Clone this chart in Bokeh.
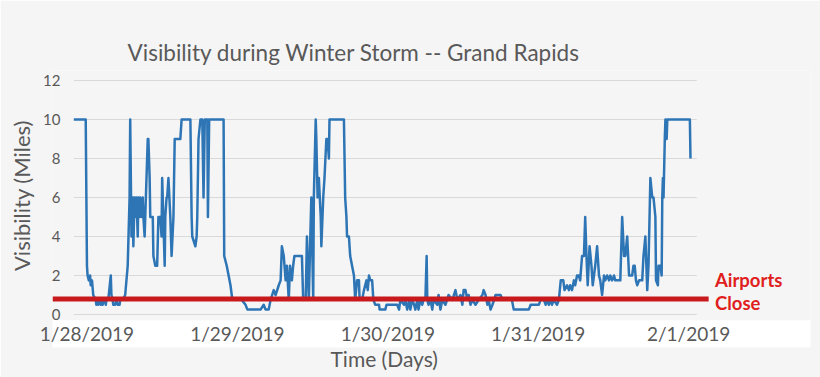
from bokeh.plotting import figure
from bokeh.models import Range1d, FixedTicker, Title, ColumnDataSource
from bokeh.core.properties import value
from bokeh.embed import file_html
from bokeh.resources import INLINE

TITLE = "Visibility during Winter Storm -- Grand Rapids"
Y_LABEL = "Visibility (Miles)"
X_LABEL = "Time (Days)"
THRESHOLD_TEXT = ["Airports", "Close"]

# hours since 1/28/2019 00:00
TIME_HOURS = [
    -2.1, -0.2, 0.0, 0.1, 0.3, 0.5, 0.6, 0.8, 1.0, 1.4,
    1.5, 1.7, 1.8, 2.0, 2.2, 2.3, 2.5, 2.6, 2.8, 3.0,
    3.1, 3.4, 3.8, 3.9, 4.1, 4.2, 4.5, 4.7, 4.9, 5.2,
    5.3, 5.7, 6.1, 6.5, 6.8, 6.9, 7.1, 7.3, 7.4, 7.6,
    7.7, 7.9, 8.1, 8.2, 8.4, 8.5, 8.7, 8.9, 9.0, 9.2,
    9.3, 9.7, 9.8, 10.0, 10.1, 10.5, 10.6, 10.9, 11.2, 11.4,
    11.7, 11.9, 12.0, 12.4, 12.5, 12.7, 12.8, 13.0, 13.3, 13.5,
    13.8, 14.0, 14.9, 15.1, 16.5, 16.7, 16.8, 17.3, 17.5, 17.6,
    17.8, 18.1, 18.4, 18.6, 18.8, 19.2, 19.3, 19.5, 21.8, 21.9,
    22.3, 22.6, 22.9, 23.1, 23.2, 23.7, 24.7, 25.3, 25.6, 27.7,
    28.2, 28.5, 29.0, 29.3, 29.8, 30.1, 30.6, 30.9, 31.1, 31.4,
    31.7, 31.9, 32.2, 32.4, 32.7, 32.9, 33.1, 34.3, 34.5, 34.9,
    35.1, 35.4, 35.6, 35.8, 36.1, 36.2, 36.5, 36.6, 36.8, 37.0,
    37.3, 37.4, 37.7, 37.9, 38.2, 38.4, 38.6, 38.7, 41.0, 41.2,
    41.4, 41.5, 41.8, 42.0, 42.3, 42.6, 42.8, 43.1, 43.4, 43.5,
    43.9, 44.2, 44.6, 44.8, 45.0, 45.2, 45.5, 45.7, 46.0, 46.6,
    46.7, 47.6, 47.8, 49.5, 49.8, 50.0, 50.6, 50.8, 51.1, 51.4,
    51.6, 51.9, 52.2, 52.4, 52.7, 52.9, 53.2, 53.5, 53.7, 54.0,
    54.2, 54.3, 54.5, 54.8, 55.1, 55.3, 55.9, 56.1, 56.4, 56.7,
    57.2, 57.7, 58.3, 58.8, 59.1, 59.6, 59.9, 60.1, 60.4, 60.7,
    60.9, 61.2, 61.5, 62.0, 62.5, 63.1, 63.3, 63.6, 63.9, 64.1,
    64.4, 64.7, 65.2, 66.0, 66.3, 67.8, 68.1, 70.5, 70.8, 72.1,
    72.4, 72.9, 73.2, 73.4, 73.7, 74.0, 74.2, 74.5, 75.0, 75.3,
    75.6, 76.0, 76.2, 76.6, 76.9, 77.1, 77.4, 77.7, 77.9, 78.2,
    78.5, 78.7, 79.0, 79.3, 79.5, 79.7, 79.9, 80.2, 80.5, 80.7,
    80.9, 81.1, 81.4, 81.7, 81.9, 82.2, 82.5, 82.7, 83.0, 83.3,
    83.5, 83.8, 84.1, 84.3, 85.1, 85.4, 85.7, 85.9, 86.2, 86.5,
    87.0, 87.2, 87.4, 87.6, 87.8, 88.1, 88.6, 88.8, 89.1, 89.4,
    89.6, 89.9, 90.2, 90.4, 90.7, 90.8, 91.1, 91.2, 91.5, 91.7,
    91.8, 91.9, 92.0, 92.2, 92.3, 92.5, 92.6, 96.2, 96.3,
]

VISIBILITY_MI = [
    10, 10, 2.5, 2.0, 1.75, 2.0, 1.5, 1.75, 1.0, 0.75,
    0.5, 0.75, 0.5, 0.75, 0.5, 0.75, 0.5, 0.75, 0.75, 0.5,
    0.75, 0.75, 2.0, 1.0, 0.75, 0.5, 0.5, 0.75, 0.5, 0.5,
    0.75, 0.75, 1.0, 2.5, 6.0, 10, 4.0, 6.0, 3.5, 6.0,
    5.0, 6.0, 4.0, 6.0, 5.0, 6.0, 5.0, 6.0, 5.0, 4.0,
    5.0, 9.0, 9.0, 7.0, 5.0, 5.0, 3.0, 2.5, 2.5, 5.0,
    5.0, 4.0, 7.0, 2.5, 5.0, 6.0, 6.0, 7.0, 5.0, 3.0,
    5.0, 9.0, 9.0, 10, 10, 5.0, 4.0, 3.5, 4.0, 5.0,
    9.0, 10, 10, 6.0, 10, 10, 5.0, 10, 10, 3.0,
    2.5, 2.0, 1.5, 1.0, 0.75, 0.75, 0.75, 0.5, 0.25, 0.25,
    0.5, 0.25, 0.25, 0.75, 1.25, 1.0, 1.5, 1.75, 3.5, 3.0,
    1.75, 2.5, 0.75, 2.5, 1.75, 2.5, 3.0, 3.0, 0.75, 0.75,
    4.0, 0.75, 3.5, 6.0, 0.75, 6.0, 10, 9.0, 6.0, 7.0,
    5.0, 3.5, 6.0, 7.0, 9.0, 9.0, 8.0, 10, 10, 6.0,
    5.0, 4.0, 4.0, 3.0, 2.5, 2.0, 0.75, 1.75, 1.75, 0.75,
    0.75, 1.25, 1.75, 1.25, 2.0, 1.75, 1.75, 0.75, 0.5, 0.5,
    0.25, 0.25, 0.5, 0.5, 0.25, 0.75, 0.5, 0.75, 0.25, 0.75,
    0.25, 0.75, 0.5, 0.25, 0.75, 0.25, 0.75, 0.5, 0.75, 0.75,
    3.0, 0.75, 0.5, 0.75, 0.25, 0.75, 0.5, 1.0, 0.25, 0.75,
    0.5, 1.0, 0.75, 1.25, 0.75, 1.0, 0.5, 1.25, 1.25, 0.75,
    1.0, 0.5, 0.75, 0.5, 0.75, 1.0, 1.25, 1.0, 0.5, 0.75,
    0.25, 0.5, 1.0, 1.0, 0.75, 0.75, 0.25, 0.25, 0.5, 0.5,
    0.75, 0.75, 0.5, 0.75, 0.5, 0.75, 0.5, 0.75, 0.5, 0.75,
    1.75, 1.75, 1.25, 1.5, 1.25, 1.5, 1.25, 1.75, 1.5, 2.0,
    2.0, 1.75, 3.0, 3.0, 5.0, 3.0, 1.5, 3.5, 2.5, 1.5,
    2.0, 2.5, 3.5, 2.0, 1.75, 1.0, 2.0, 1.75, 2.0, 1.75,
    2.0, 1.75, 2.0, 1.75, 1.75, 5.0, 3.0, 3.0, 4.0, 2.0,
    2.0, 2.5, 2.5, 1.75, 1.5, 1.75, 1.75, 3.0, 4.0, 1.25,
    2.5, 7.0, 6.0, 6.0, 5.0, 1.75, 1.5, 2.5, 2.5, 2.0,
    6.0, 7.0, 6.0, 9.0, 10, 9.0, 10, 10, 8.0,
]

X_TICK_HOURS = [0, 24, 48, 72, 96]
X_TICK_LABELS = ["1/28/2019", "1/29/2019", "1/30/2019", "1/31/2019", "2/1/2019"]
Y_TICKS = [0, 2, 4, 6, 8, 10, 12]
AIRPORTS_CLOSE_MI = 0.8

X_START, X_END = -5.5, 115.45
Y_START, Y_END = -0.308, 12.513
GRID_END_HOURS = 97.3
CLOSE_LINE_END_HOURS = 99.2

TEXT_GREY = "#595959"
FONT = "Lato"

p = figure(width=820, height=377, output_backend="svg", toolbar_location=None,
           x_range=Range1d(X_START, X_END), y_range=Range1d(Y_START, Y_END),
           min_border_left=52, min_border_right=10, min_border_top=70, min_border_bottom=57,
           background_fill_color="#f5f5f5", border_fill_color="#f5f5f5",
           outline_line_color=None)
p.grid.visible = False

# title
p.title.text = TITLE
p.title.text_font = FONT
p.title.text_font_size = "22.5px"
p.title.text_font_style = "normal"
p.title.text_color = TEXT_GREY
p.title.align = "left"
p.title.offset = 75
p.title.standoff = 10

# horizontal gridlines (limited to the data span)
p.segment(x0=TIME_HOURS[0], x1=GRID_END_HOURS, y0=Y_TICKS, y1=Y_TICKS,
          line_color="#d9d9d9", line_width=1)

# visibility series
src = ColumnDataSource(dict(t=TIME_HOURS, v=VISIBILITY_MI))
p.line("t", "v", source=src, line_color="#2e75b6", line_width=2.5, line_join="round")

# airports-close threshold
p.line(x=[X_START, CLOSE_LINE_END_HOURS], y=[AIRPORTS_CLOSE_MI, AIRPORTS_CLOSE_MI],
       line_color="#c8191d", line_width=5)
p.text(x=[CLOSE_LINE_END_HOURS + 1.0] * 2, y=[AIRPORTS_CLOSE_MI + 0.95, AIRPORTS_CLOSE_MI - 0.2],
       text=THRESHOLD_TEXT, text_font=value(FONT), text_font_style="bold",
       text_font_size="18.5px", text_color="#e01e1e", text_baseline="middle", text_align="left")

# y axis
ya = p.yaxis[0]
ya.ticker = FixedTicker(ticks=Y_TICKS)
ya.axis_line_color = None
ya.major_tick_line_color = None
ya.minor_tick_line_color = None
ya.major_tick_out = 0
ya.major_tick_in = 0
ya.minor_tick_out = 0
ya.major_label_standoff = -8
ya.major_label_text_font = FONT
ya.major_label_text_font_size = "15px"
ya.major_label_text_color = TEXT_GREY
ya.axis_label = Y_LABEL
ya.axis_label_text_font = FONT
ya.axis_label_text_font_size = "22px"
ya.axis_label_text_font_style = "normal"
ya.axis_label_text_color = TEXT_GREY
ya.axis_label_standoff = 5

# x axis
xa = p.xaxis[0]
xa.ticker = FixedTicker(ticks=X_TICK_HOURS)
xa.major_label_overrides = {h: lbl for h, lbl in zip(X_TICK_HOURS, X_TICK_LABELS)}
xa.axis_line_color = None
xa.major_tick_line_color = None
xa.minor_tick_line_color = None
xa.major_tick_out = 0
xa.major_tick_in = 0
xa.minor_tick_out = 0
xa.major_label_standoff = 1
xa.major_label_text_font = FONT
xa.major_label_text_font_size = "19px"
xa.major_label_text_color = TEXT_GREY
xa.background_fill_color = "white"

p.add_layout(Title(text=X_LABEL, align="left", offset=278, standoff=-7,
                   text_font=FONT, text_font_size="21px", text_font_style="normal",
                   text_color=TEXT_GREY), "below")

open("out.html", "w").write(file_html(p, INLINE))
